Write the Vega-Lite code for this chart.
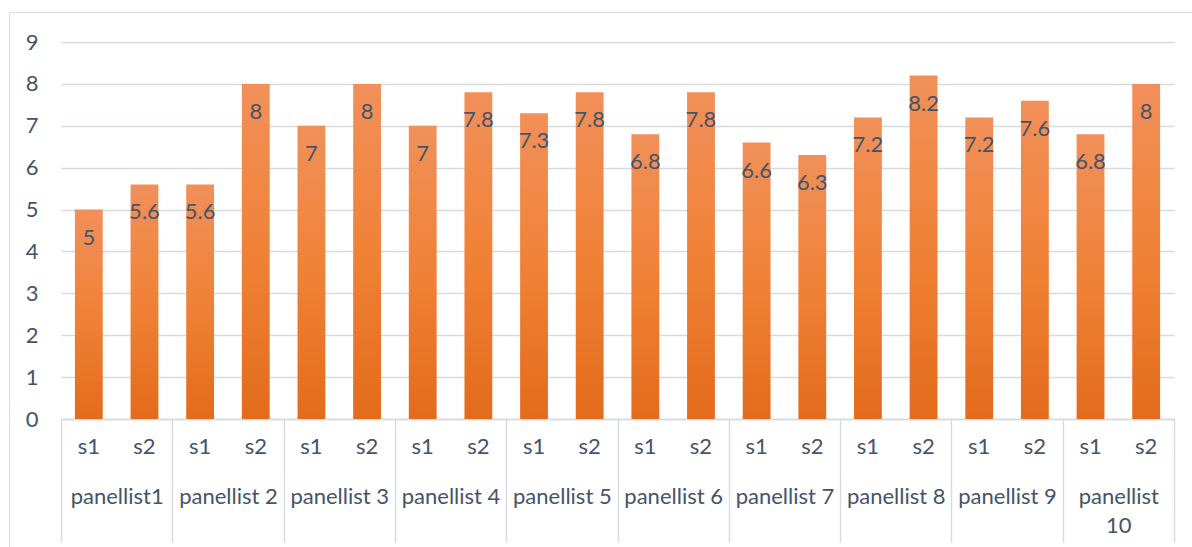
{
  "$schema": "https://vega.github.io/schema/vega-lite/v6.json",
  "width": 1183,
  "height": 535,
  "autosize": {"type": "none"},
  "padding": {"left": 9, "top": 12, "right": 0, "bottom": 0},
  "background": "white",
  "config": {
    "view": {"stroke": "#D9DDE3", "strokeWidth": 1},
    "font": "Lato",
    "axis": {
      "labelFont": "Lato",
      "labelFontSize": 22,
      "labelColor": "#44546A",
      "titleFont": "Lato"
    }
  },
  "data": {
    "values": [
      {"panellist": "panellist1", "session": "s1", "score": 5},
      {"panellist": "panellist1", "session": "s2", "score": 5.6},
      {"panellist": "panellist 2", "session": "s1", "score": 5.6},
      {"panellist": "panellist 2", "session": "s2", "score": 8},
      {"panellist": "panellist 3", "session": "s1", "score": 7},
      {"panellist": "panellist 3", "session": "s2", "score": 8},
      {"panellist": "panellist 4", "session": "s1", "score": 7},
      {"panellist": "panellist 4", "session": "s2", "score": 7.8},
      {"panellist": "panellist  5", "session": "s1", "score": 7.3},
      {"panellist": "panellist  5", "session": "s2", "score": 7.8},
      {"panellist": "panellist 6", "session": "s1", "score": 6.8},
      {"panellist": "panellist 6", "session": "s2", "score": 7.8},
      {"panellist": "panellist 7", "session": "s1", "score": 6.6},
      {"panellist": "panellist 7", "session": "s2", "score": 6.3},
      {"panellist": "panellist 8", "session": "s1", "score": 7.2},
      {"panellist": "panellist 8", "session": "s2", "score": 8.2},
      {"panellist": "panellist 9", "session": "s1", "score": 7.2},
      {"panellist": "panellist 9", "session": "s2", "score": 7.6},
      {"panellist": "panellist 10", "session": "s1", "score": 6.8},
      {"panellist": "panellist 10", "session": "s2", "score": 8}
    ]
  },
  "transform": [
    {"calculate": "datum.panellist + '|' + datum.session", "as": "bar"}
  ],
  "encoding": {
    "y": {
      "field": "score",
      "type": "quantitative",
      "scale": {"domain": [0, 9], "range": [407, 30], "nice": false, "zero": true},
      "axis": {
        "orient": "left",
        "offset": -52,
        "title": null,
        "values": [0, 1, 2, 3, 4, 5, 6, 7, 8, 9],
        "domain": false,
        "ticks": false,
        "labelPadding": 23,
        "grid": true,
        "gridColor": "#D6DBE2",
        "gridWidth": 1.4
      }
    }
  },
  "layer": [
    {
      "encoding": {
        "x": {
          "field": "bar",
          "type": "nominal",
          "sort": null,
          "scale": {"range": [52, 1165], "paddingInner": 0.5, "paddingOuter": 0.25},
          "axis": {
            "orient": "bottom",
            "offset": -128,
            "title": null,
            "domain": false,
            "ticks": false,
            "labelAngle": 0,
            "labelPadding": 17,
            "labelExpr": "split(datum.value, '|')[1]"
          }
        }
      },
      "layer": [
        {
          "mark": {
            "type": "bar",
            "color": {
              "gradient": "linear",
              "x1": 0, "y1": 0, "x2": 0, "y2": 1,
              "stops": [
                {"offset": 0, "color": "#F1905A"},
                {"offset": 0.5, "color": "#F08237"},
                {"offset": 1, "color": "#E36B1C"}
              ]
            }
          }
        },
        {
          "mark": {
            "type": "text",
            "baseline": "middle",
            "align": "center",
            "dy": 28,
            "font": "Lato",
            "fontSize": 22,
            "color": "#44546A"
          },
          "encoding": {"text": {"field": "score", "type": "quantitative"}}
        }
      ]
    },
    {
      "mark": {"type": "point", "opacity": 0},
      "encoding": {
        "x": {
          "field": "panellist",
          "type": "nominal",
          "sort": null,
          "scale": {"range": [52, 1165], "paddingInner": 0, "paddingOuter": 0},
          "axis": {
            "orient": "bottom",
            "offset": -128,
            "title": null,
            "domain": true,
            "domainColor": "#D6DBE2",
            "domainWidth": 1.4,
            "ticks": true,
            "tickBand": "extent",
            "tickSize": 123,
            "tickColor": "#D6DBE2",
            "tickWidth": 1.4,
            "labelAngle": 0,
            "labelPadding": -56,
            "labelLineHeight": 29,
            "labelExpr": "datum.value == 'panellist 10' ? ['panellist', '10'] : datum.value"
          }
        }
      }
    }
  ],
  "resolve": {"scale": {"x": "independent"}, "axis": {"x": "independent"}}
}
